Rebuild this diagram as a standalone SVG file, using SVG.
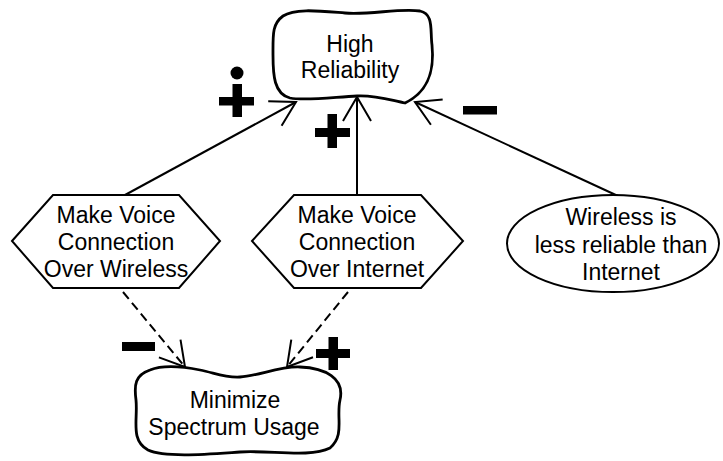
<svg xmlns="http://www.w3.org/2000/svg" width="723" height="461" viewBox="0 0 723 461">
<style>
.shape{fill:#fff;stroke:#000;stroke-width:2}
.soft{fill:#fff;stroke:#000;stroke-width:2.8;stroke-linejoin:round}
.lbl{font-family:"Liberation Sans",Arial,sans-serif;font-size:23px;fill:#000;text-anchor:middle}
.conn{fill:none;stroke:#000;stroke-width:2;marker-end:url(#arr)}
.dash{stroke-dasharray:9 5}
.sign{fill:#000;stroke:none}
</style>
<defs>
<marker id="arr" markerUnits="userSpaceOnUse" viewBox="-30 -18 34 36" refX="0" refY="0" markerWidth="34" markerHeight="36" orient="auto">
<path d="M-24,-14 L0,0 L-24,14" fill="none" stroke="#000" stroke-width="2"/>
</marker>
</defs>
<g id="connectors">
<line class="conn" x1="125" y1="195" x2="296" y2="102"/>
<line class="conn" x1="357" y1="195" x2="357" y2="97"/>
<line class="conn" x1="618" y1="196" x2="415" y2="102"/>
<line class="conn dash" x1="123" y1="292" x2="185" y2="367"/>
<line class="conn dash" x1="348" y1="292" x2="287" y2="367"/>
</g>
<g id="labels">
<circle class="sign" cx="237" cy="73" r="6.5"/>
<rect class="sign" x="219" y="97" width="35" height="8.5"/>
<rect class="sign" x="232.5" y="84" width="9.5" height="33"/>
<rect class="sign" x="315" y="128" width="35" height="9"/>
<rect class="sign" x="327.5" y="114" width="9.5" height="34"/>
<rect class="sign" x="463" y="106" width="34" height="8.5"/>
<rect class="sign" x="122" y="342" width="33" height="9"/>
<rect class="sign" x="316" y="349" width="34" height="9"/>
<rect class="sign" x="328.5" y="337" width="9.5" height="33"/>
</g>
<g id="high-reliability">
<path class="soft" d="M283,16 C295,8 320,11 345,13 C370,15 400,8 420,11 C434,14 430,30 432,45 C434,65 432,90 405,103 C390,100 375,95 357,96 C335,97 305,101 290,98 C274,94 273,75 273,55 C273,35 272,24 283,16 Z"/>
<text class="lbl" x="350" y="52">High</text>
<text class="lbl" x="350" y="78">Reliability</text>
</g>
<g id="voice-wireless">
<polygon class="shape" points="12,241 53,195 179,195 220,241 179,288 53,288"/>
<text class="lbl" x="116" y="223">Make Voice</text>
<text class="lbl" x="116" y="250">Connection</text>
<text class="lbl" x="116" y="277">Over Wireless</text>
</g>
<g id="voice-internet">
<polygon class="shape" points="252,241 294,195 421,195 463,241 421,288 294,288"/>
<text class="lbl" x="357" y="223">Make Voice</text>
<text class="lbl" x="357" y="250">Connection</text>
<text class="lbl" x="357" y="277">Over Internet</text>
</g>
<g id="wireless-less-reliable">
<ellipse class="shape" stroke-width="2.5" cx="613" cy="243.5" rx="106" ry="48.5"/>
<text class="lbl" x="621" y="225">Wireless is</text>
<text class="lbl" x="621" y="253">less reliable than</text>
<text class="lbl" x="621" y="280">Internet</text>
</g>
<g id="minimize-spectrum">
<path class="soft" d="M150,370 C165,364 185,367 200,370 C215,373 225,378 240,377 C258,376 280,366 300,367 C325,368 345,378 340,400 C336,418 345,435 330,448 C310,458 270,450 240,452 C210,454 165,458 148,450 C130,440 138,420 136,400 C134,385 135,375 150,370 Z"/>
<text class="lbl" x="235" y="408">Minimize</text>
<text class="lbl" x="234" y="435">Spectrum Usage</text>
</g>
</svg>
